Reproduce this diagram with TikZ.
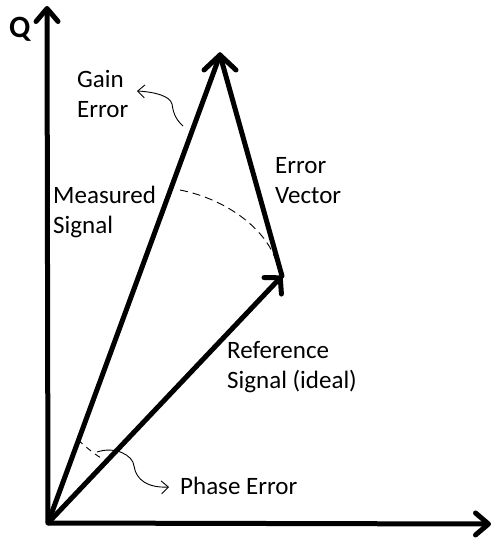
\documentclass[tikz,border=0pt]{standalone}
\usepackage{fontspec}
\setmainfont{Carlito}
\usetikzlibrary{arrows.meta,calc}
\begin{document}
\begin{tikzpicture}[x=1pt,y=-1pt,
  thickline/.style={line width=5pt},
  bighead/.style={-{Straight Barb[length=13pt,width=22pt,round]}},
  thinarrow/.style={line width=0.9pt,-{Straight Barb[length=7pt,width=13pt]}},
  dashline/.style={line width=0.9pt,dash pattern=on 8pt off 5pt},
  lbl/.style={inner sep=0pt,anchor=base west,align=left,font=\fontsize{25}{30}\selectfont}]
\useasboundingbox (0,0) rectangle (498,538);
\coordinate (O) at (48,523);
\coordinate (Qtip) at (47,6);
\coordinate (Itip) at (491,524);
\coordinate (M) at (220,55);
\coordinate (R) at (282,276);
% axes
\draw[thickline,bighead] (O) -- (Qtip);
\draw[thickline,bighead] (O) -- (Itip);
% vectors
\draw[thickline,line cap=round] (O) -- (M);
\draw[thickline,line cap=round] (R) -- (M);
\draw[thickline,line cap=round,line join=round] ($(M)+(-16,15)$) -- (M) -- ($(M)+(16,15)$);
\draw[thickline,-{Straight Barb[length=11pt,width=24pt,round]}] (O) -- (R);
% dashed arcs
\coordinate (gA) at (180,190);
\coordinate (gB) at (278,268);
\draw[dashline] (gA) .. controls (226,199) and (270,230) .. (gB);
\coordinate (pA) at (78,440);
\coordinate (pB) at (101,458);
\draw[dashline,dash pattern=on 6pt off 5pt] (pA) .. controls (86,447) and (93,453) .. (pB);
% labels
\node[lbl,font=\fontsize{31}{34}\selectfont\bfseries] (Q) at (9,37) {Q};
\node[lbl] (gain) at (77,117) {Gain\\Error};
\node[lbl] (meas) at (53,233) {Measured\\Signal};
\node[lbl] (err) at (275,203) {Error\\Vector};
\node[lbl] (ref) at (227,388) {Reference\\Signal (ideal)};
\node[lbl] (phase) at (180,494) {Phase Error};
% pointer arrows
\coordinate (gS) at (183,126);
\draw[thinarrow] (gS) .. controls (174,118) and (173,110) .. (172,104)
  .. controls (170,96) and (155,92) .. (137,91);
\coordinate (pS) at (97,452);
\draw[thinarrow] (pS) .. controls (115,446) and (133,455) .. (134,466)
  .. controls (136,480) and (148,488) .. (169,487);
\end{tikzpicture}
\end{document}
